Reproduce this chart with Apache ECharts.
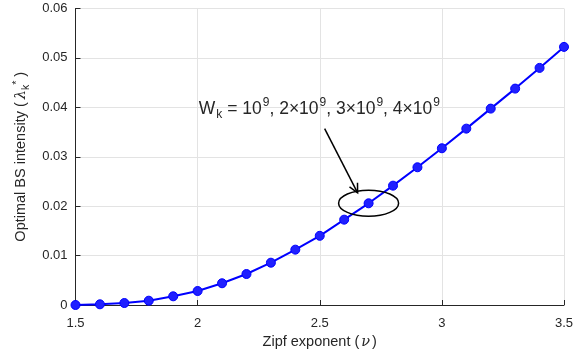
<!DOCTYPE html>
<html>
<head>
<meta charset="utf-8">
<script src="https://cdn.jsdelivr.net/npm/echarts@6/dist/echarts.min.js"></script>
<style>
html,body{margin:0;padding:0;background:#fff;}
#chart{width:581px;height:357px;}
</style>
</head>
<body>
<div id="chart"></div>
<script>
// Zipf exponent values (x) and the optimal BS intensity at each one
const zipfExponent = [1.5, 1.6, 1.7, 1.8, 1.9, 2.0, 2.1, 2.2, 2.3, 2.4, 2.5,
                      2.6, 2.7, 2.8, 2.9, 3.0, 3.1, 3.2, 3.3, 3.4, 3.5];
const optimalIntensity = [0.0000, 0.00014, 0.0004, 0.00087, 0.00176, 0.00283, 0.0044,
                          0.00627, 0.00856, 0.0112, 0.0140, 0.01727, 0.02058, 0.02415,
                          0.02787, 0.03172, 0.03569, 0.03974, 0.04379, 0.04798, 0.05223];
const xTicks = [1.5, 2, 2.5, 3, 3.5];
const yTicks = [0, 0.01, 0.02, 0.03, 0.04, 0.05, 0.06];

const FONT = '"Liberation Sans", Arial, Helvetica, sans-serif';
const TXT = '#262626';

const chart = echarts.init(document.getElementById('chart'), null, {renderer: 'canvas'});

const pairs = zipfExponent.map((x, i) => [x, optimalIntensity[i]]);

const option = {
  animation: false,
  backgroundColor: '#ffffff',
  grid: {left: 75.5, right: 17, top: 8.5, bottom: 52, containLabel: false},
  xAxis: {
    type: 'value',
    min: xTicks[0], max: xTicks[xTicks.length - 1], interval: 0.5,
    name: '{n|Zipf exponent (}{v|ν}{n|)}',
    nameLocation: 'middle', nameGap: 27,
    nameTextStyle: {
      fontFamily: FONT, fontSize: 14.5, color: TXT,
      rich: {
        n: {fontFamily: FONT, fontSize: 14.5, color: TXT},
        v: {fontFamily: '"DejaVu Serif", serif', fontStyle: 'italic', fontSize: 14.5, color: TXT, padding: [0, 2, 0, 2]}
      }
    },
    axisLine: {show: true, onZero: false, lineStyle: {color: TXT, width: 1}},
    axisTick: {show: true, inside: true, length: 5, lineStyle: {color: TXT}},
    axisLabel: {fontFamily: FONT, fontSize: 13, color: TXT, margin: 12,
      formatter: v => String(v)},
    splitLine: {show: true, lineStyle: {color: '#e3e3e3', width: 1}}
  },
  yAxis: {
    type: 'value',
    min: yTicks[0], max: yTicks[yTicks.length - 1], interval: 0.01,
    name: '{n|Optimal BS intensity (}{l|λ}{s|k}{p|*}{n|)}',
    nameLocation: 'middle', nameGap: 41, nameRotate: 90,
    nameTextStyle: {
      fontFamily: FONT, fontSize: 14.5, color: TXT,
      rich: {
        n: {fontFamily: FONT, fontSize: 14.5, color: TXT, lineHeight: 20, verticalAlign: 'middle'},
        l: {fontFamily: '"DejaVu Serif", serif', fontStyle: 'italic', fontSize: 14.5, color: TXT, lineHeight: 20, verticalAlign: 'middle', padding: [0, 0, 0, 3]},
        s: {fontFamily: FONT, fontSize: 10.5, color: TXT, lineHeight: 20, verticalAlign: 'bottom', padding: [6, 0, 0, 0]},
        p: {fontFamily: FONT, fontSize: 10.5, color: TXT, lineHeight: 20, verticalAlign: 'top', padding: [0, 4, 6, 0]}
      }
    },
    axisLine: {show: true, lineStyle: {color: TXT, width: 1}},
    axisTick: {show: true, inside: true, length: 5, lineStyle: {color: TXT}},
    axisLabel: {fontFamily: FONT, fontSize: 13, color: TXT, margin: 8,
      formatter: v => (v === 0 ? '0' : v.toFixed(2))},
    splitLine: {show: true, lineStyle: {color: '#e3e3e3', width: 1}}
  },
  series: [{
    type: 'line',
    data: pairs,
    symbol: 'circle',
    symbolSize: 9,
    showSymbol: true,
    lineStyle: {color: '#0000ff', width: 2},
    itemStyle: {color: '#2020ff', borderColor: '#0000ff', borderWidth: 1},
    z: 3
  }]
};
chart.setOption(option);

// Annotation: caption, arrow and ellipse around the curve near nu = 2.7
function px(x, y) { return chart.convertToPixel({gridIndex: 0}, [x, y]); }
const ellC = px(2.7, 0.0206);
const arrowFrom = px(2.52, 0.0357);
const arrowTo = px(2.655, 0.0227);
const capPos = px(2.005, 0.0397);

const dx = arrowTo[0] - arrowFrom[0], dy = arrowTo[1] - arrowFrom[1];
const ang = Math.atan2(dy, dx);
const headLen = 9, headW = 4.5;
const hx1 = arrowTo[0] - headLen * Math.cos(ang) + headW * Math.sin(ang);
const hy1 = arrowTo[1] - headLen * Math.sin(ang) - headW * Math.cos(ang);
const hx2 = arrowTo[0] - headLen * Math.cos(ang) - headW * Math.sin(ang);
const hy2 = arrowTo[1] - headLen * Math.sin(ang) + headW * Math.cos(ang);

chart.setOption({
  graphic: [
    {
      type: 'ellipse',
      shape: {cx: ellC[0], cy: ellC[1], rx: 30, ry: 13},
      style: {fill: 'none', stroke: '#000000', lineWidth: 1.5},
      z: 10
    },
    {
      type: 'line',
      shape: {x1: arrowFrom[0], y1: arrowFrom[1], x2: arrowTo[0], y2: arrowTo[1]},
      style: {stroke: '#000000', lineWidth: 1.5},
      z: 10
    },
    {
      type: 'polyline',
      shape: {points: [[hx1, hy1], [arrowTo[0], arrowTo[1]], [hx2, hy2]]},
      style: {stroke: '#000000', lineWidth: 1.5, fill: 'none'},
      z: 10
    },
    {
      type: 'text',
      x: capPos[0], y: capPos[1],
      style: {
        text: '{n|W}{s|k}{n| = 10}{p|9}{n|, 2×10}{p|9}{n|, 3×10}{p|9}{n|, 4×10}{p|9}',
        verticalAlign: 'middle',
        align: 'left',
        rich: {
          n: {fontFamily: FONT, fontSize: 17.5, fill: TXT, lineHeight: 24, verticalAlign: 'middle'},
          s: {fontFamily: FONT, fontSize: 12, fill: TXT, lineHeight: 24, verticalAlign: 'bottom', padding: [9, 0, 0, 1]},
          p: {fontFamily: FONT, fontSize: 12, fill: TXT, lineHeight: 24, verticalAlign: 'top', padding: [0, 0, 9, 1]}
        }
      },
      z: 10
    }
  ]
});
</script>
</body>
</html>
